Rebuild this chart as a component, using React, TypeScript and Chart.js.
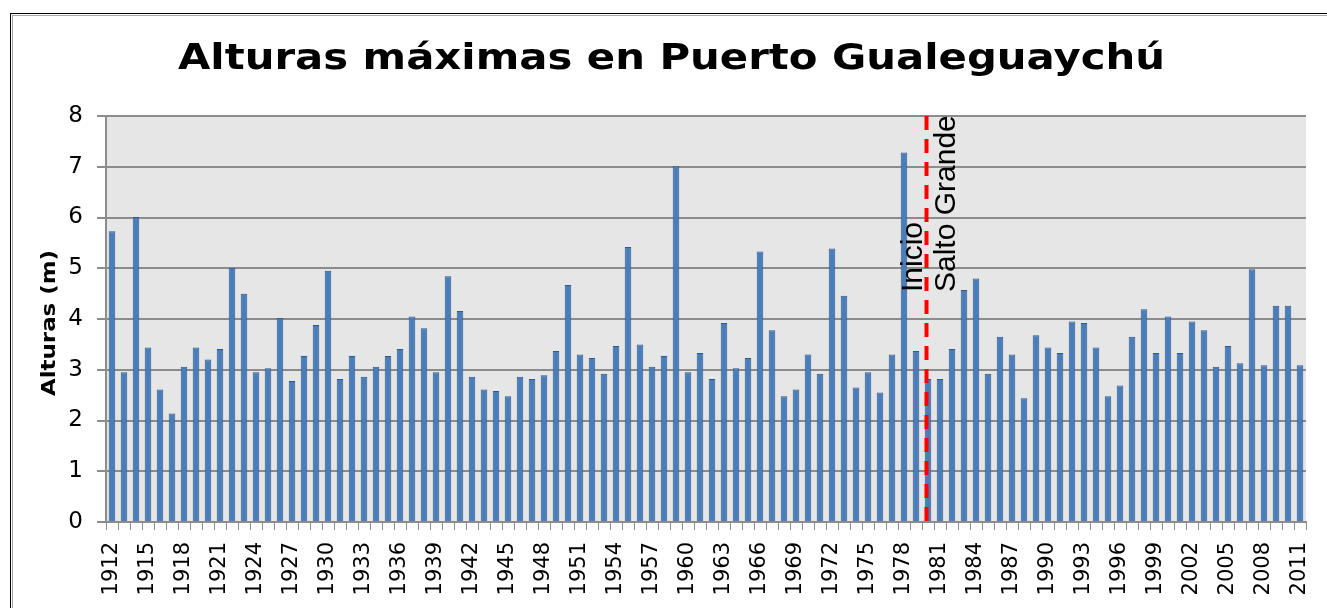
import { useEffect, useRef } from 'react';
import { Chart, registerables } from 'chart.js';

Chart.register(...registerables);

const W = 1327;
const H = 608;

const years: string[] = [
  '1912','1913','1914','1915','1916','1917','1918','1919','1920','1921',
  '1922','1923','1924','1925','1926','1927','1928','1929','1930','1931',
  '1932','1933','1934','1935','1936','1937','1938','1939','1940','1941',
  '1942','1943','1944','1945','1946','1947','1948','1949','1950','1951',
  '1952','1953','1954','1955','1956','1957','1958','1959','1960','1961',
  '1962','1963','1964','1965','1966','1967','1968','1969','1970','1971',
  '1972','1973','1974','1975','1976','1977','1978','1979','1980','1981',
  '1982','1983','1984','1985','1986','1987','1988','1989','1990','1991',
  '1992','1993','1994','1995','1996','1997','1998','1999','2000','2001',
  '2002','2003','2004','2005','2006','2007','2008','2009','2010','2011',
];

const heights: number[] = [
  5.73, 2.95, 6.01, 3.44, 2.61, 2.14, 3.06, 3.44, 3.20, 3.41,
  5.01, 4.50, 2.95, 3.03, 4.02, 2.78, 3.27, 3.88, 4.95, 2.82,
  3.27, 2.86, 3.06, 3.27, 3.41, 4.05, 3.82, 2.95, 4.84, 4.16,
  2.86, 2.61, 2.58, 2.48, 2.86, 2.82, 2.89, 3.37, 4.67, 3.30,
  3.23, 2.92, 3.47, 5.42, 3.50, 3.06, 3.27, 7.01, 2.95, 3.33,
  2.82, 3.92, 3.03, 3.23, 5.33, 3.78, 2.48, 2.61, 3.30, 2.92,
  5.39, 4.46, 2.65, 2.95, 2.55, 3.30, 7.28, 3.37, 2.82, 2.82,
  3.41, 4.57, 4.80, 2.92, 3.65, 3.30, 2.44, 3.68, 3.44, 3.33,
  3.95, 3.92, 3.44, 2.48, 2.69, 3.65, 4.19, 3.33, 4.05, 3.33,
  3.95, 3.78, 3.06, 3.47, 3.13, 4.98, 3.09, 4.26, 4.26, 3.09,
];

const yTicks: number[] = [0, 1, 2, 3, 4, 5, 6, 7, 8];
const markerYear = '1980';
const markerLines: string[] = ['Inicio', 'Salto Grande'];
const titleText = 'Alturas máximas en Puerto Gualeguaychú';
const yTitleText = 'Alturas (m)';

export default function App() {
  const ref = useRef<HTMLCanvasElement>(null);

  useEffect(() => {
    const canvas = ref.current;
    if (!canvas) return;

    const bgPlugin = {
      id: 'bgPlugin',
      beforeDraw(chart: any) {
        const { ctx, chartArea: a } = chart;
        ctx.save();
        ctx.fillStyle = '#ffffff';
        ctx.fillRect(0, 0, W, H);
        ctx.strokeStyle = '#000000';
        ctx.lineWidth = 1;
        ctx.strokeRect(10.5, 13.5, W + 20, H + 20);
        ctx.strokeStyle = '#a6a6a6';
        ctx.strokeRect(12.5, 15.5, W + 20, H + 20);
        ctx.fillStyle = '#e6e6e6';
        ctx.fillRect(a.left, a.top, a.right - a.left, a.bottom - a.top);
        ctx.restore();
      },
    };

    const overlayPlugin = {
      id: 'overlayPlugin',
      afterDraw(chart: any) {
        const { ctx, chartArea: a } = chart;
        const xs = chart.scales.x;
        ctx.save();
        ctx.font = 'bold 35px "DejaVu Sans"';
        ctx.fillStyle = '#000000';
        ctx.textAlign = 'center';
        ctx.textBaseline = 'alphabetic';
        const tw = ctx.measureText(titleText).width;
        ctx.save();
        ctx.translate(671.5, 69);
        ctx.scale(987 / tw, 1);
        ctx.fillText(titleText, 0, 0);
        ctx.restore();

        ctx.font = 'bold 20px "DejaVu Sans"';
        const yw = ctx.measureText(yTitleText).width;
        ctx.save();
        ctx.translate(55, 323);
        ctx.rotate(-Math.PI / 2);
        ctx.scale(146 / yw, 1);
        ctx.fillText(yTitleText, 0, 0);
        ctx.restore();

        const idx = years.indexOf(markerYear);
        const lx = xs.getPixelForValue(idx) - 1.5;
        ctx.strokeStyle = '#ff0000';
        ctx.lineWidth = 4;
        ctx.setLineDash([14, 9]);
        ctx.beginPath();
        ctx.moveTo(lx, a.top);
        ctx.lineTo(lx, a.bottom);
        ctx.stroke();
        ctx.setLineDash([]);

        ctx.font = '30px "Liberation Sans"';
        ctx.fillStyle = '#000000';
        ctx.textAlign = 'left';
        ctx.textBaseline = 'alphabetic';
        const offsets = [-4.5, 28.5];
        markerLines.forEach((line, i) => {
          ctx.save();
          ctx.translate(lx + offsets[i], 292);
          ctx.rotate(-Math.PI / 2);
          ctx.fillText(line, 0, 0);
          ctx.restore();
        });
        ctx.restore();
      },
    };

    const chart = new Chart(canvas, {
      type: 'bar',
      data: {
        labels: years,
        datasets: [
          {
            data: heights,
            backgroundColor: '#4a7ebb',
            borderColor: '#2f5a8f',
            borderWidth: 1,
            categoryPercentage: 1,
            barPercentage: 0.55,
          },
        ],
      },
      options: {
        responsive: false,
        animation: false,
        devicePixelRatio: 1,
        layout: { padding: { left: 0, top: 116, right: 21, bottom: 0 } },
        plugins: {
          legend: { display: false },
          title: { display: false },
          tooltip: { enabled: false },
        },
        scales: {
          x: {
            afterFit(scale: any) {
              scale.height = 86;
              scale.paddingLeft = 0;
              scale.paddingRight = 0;
            },
            grid: {
              offset: true,
              drawOnChartArea: false,
              drawTicks: true,
              tickLength: 8,
              color: '#8c8c8c',
              lineWidth: 1,
            },
            border: { display: true, color: '#8c8c8c', width: 2 },
            ticks: {
              autoSkip: false,
              minRotation: 90,
              maxRotation: 90,
              padding: 12,
              color: '#000000',
              font: { family: 'DejaVu Sans', size: 21 },
              callback(this: any, value: any, index: number) {
                return index % 3 === 0 ? years[index] : '';
              },
            },
          },
          y: {
            min: 0,
            max: 8,
            afterFit(scale: any) {
              scale.width = 106;
              scale.paddingTop = 0;
              scale.paddingBottom = 0;
            },
            afterBuildTicks(scale: any) {
              scale.ticks = yTicks.map((v) => ({ value: v }));
            },
            grid: {
              color: '#8c8c8c',
              lineWidth: 2,
              tickLength: 9,
            },
            border: { display: true, color: '#8c8c8c', width: 2 },
            ticks: {
              stepSize: 1,
              padding: 14,
              color: '#000000',
              font: { family: 'DejaVu Sans', size: 23 },
            },
          },
        },
      },
      plugins: [bgPlugin, overlayPlugin],
    });

    return () => chart.destroy();
  }, []);

  return (
    <div style={{ position: 'absolute', left: 0, top: 0, width: W, height: H }}>
      <canvas ref={ref} width={W} height={H} style={{ display: 'block', width: W, height: H }} />
    </div>
  );
}
